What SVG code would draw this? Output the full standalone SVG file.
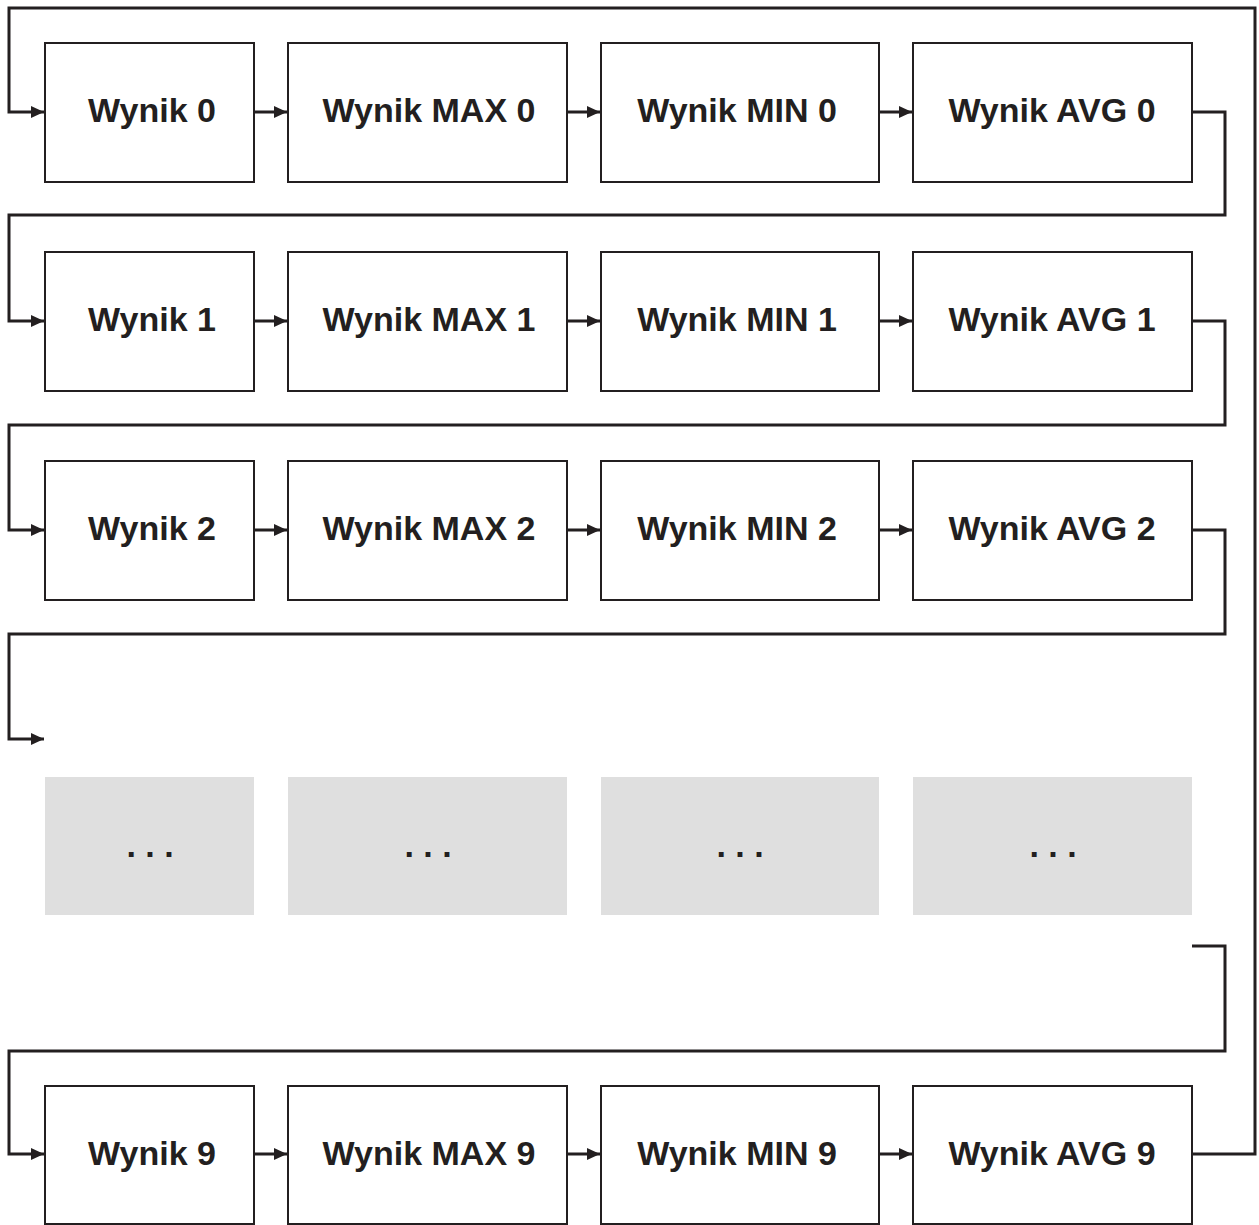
<svg xmlns="http://www.w3.org/2000/svg" width="1259" height="1225" viewBox="0 0 1259 1225">
<style>
.box{fill:#fff;stroke:#231f20;stroke-width:2}
.gbox{fill:#dfdfdf;stroke:none}
.t{font-family:"Liberation Sans",Arial,sans-serif;font-weight:bold;font-size:34px;fill:#231f20;text-anchor:middle}
.c{fill:none;stroke:#231f20;stroke-width:3}
</style>
<defs>
<marker id="ah" markerWidth="13" markerHeight="12" refX="13" refY="6" orient="auto" markerUnits="userSpaceOnUse" overflow="visible">
<path d="M0,0 L13,6 L0,12 Z" fill="#231f20"/>
</marker>
</defs>
<rect width="1259" height="1225" fill="#fff"/>
<g id="connectors">
<path class="c" d="M1192,1154 H1255 V8 H9 V112 H44" marker-end="url(#ah)"/>
<path class="c" d="M254,112 H287" marker-end="url(#ah)"/>
<path class="c" d="M567,112 H600" marker-end="url(#ah)"/>
<path class="c" d="M879,112 H912" marker-end="url(#ah)"/>
<path class="c" d="M1192,112 H1225 V215 H9 V321 H44" marker-end="url(#ah)"/>
<path class="c" d="M254,321 H287" marker-end="url(#ah)"/>
<path class="c" d="M567,321 H600" marker-end="url(#ah)"/>
<path class="c" d="M879,321 H912" marker-end="url(#ah)"/>
<path class="c" d="M1192,321 H1225 V425 H9 V530 H44" marker-end="url(#ah)"/>
<path class="c" d="M254,530 H287" marker-end="url(#ah)"/>
<path class="c" d="M567,530 H600" marker-end="url(#ah)"/>
<path class="c" d="M879,530 H912" marker-end="url(#ah)"/>
<path class="c" d="M1192,530 H1225 V634 H9 V739 H44" marker-end="url(#ah)"/>
<path class="c" d="M1192,946 H1225 V1051 H9 V1154 H44" marker-end="url(#ah)"/>
<path class="c" d="M254,1154 H287" marker-end="url(#ah)"/>
<path class="c" d="M567,1154 H600" marker-end="url(#ah)"/>
<path class="c" d="M879,1154 H912" marker-end="url(#ah)"/>
</g>
<g id="n0"><rect class="box" x="45" y="43" width="209" height="139"/><text class="t" x="152" y="122">Wynik 0</text></g>
<g id="nmax0"><rect class="box" x="288" y="43" width="279" height="139"/><text class="t" x="429" y="122">Wynik MAX 0</text></g>
<g id="nmin0"><rect class="box" x="601" y="43" width="278" height="139"/><text class="t" x="737" y="122">Wynik MIN 0</text></g>
<g id="navg0"><rect class="box" x="913" y="43" width="279" height="139"/><text class="t" x="1052" y="122">Wynik AVG 0</text></g>

<g id="n1"><rect class="box" x="45" y="252" width="209" height="139"/><text class="t" x="152" y="331">Wynik 1</text></g>
<g id="nmax1"><rect class="box" x="288" y="252" width="279" height="139"/><text class="t" x="429" y="331">Wynik MAX 1</text></g>
<g id="nmin1"><rect class="box" x="601" y="252" width="278" height="139"/><text class="t" x="737" y="331">Wynik MIN 1</text></g>
<g id="navg1"><rect class="box" x="913" y="252" width="279" height="139"/><text class="t" x="1052" y="331">Wynik AVG 1</text></g>

<g id="n2"><rect class="box" x="45" y="461" width="209" height="139"/><text class="t" x="152" y="540">Wynik 2</text></g>
<g id="nmax2"><rect class="box" x="288" y="461" width="279" height="139"/><text class="t" x="429" y="540">Wynik MAX 2</text></g>
<g id="nmin2"><rect class="box" x="601" y="461" width="278" height="139"/><text class="t" x="737" y="540">Wynik MIN 2</text></g>
<g id="navg2"><rect class="box" x="913" y="461" width="279" height="139"/><text class="t" x="1052" y="540">Wynik AVG 2</text></g>

<g id="d0"><rect class="gbox" x="45" y="777" width="209" height="138"/><text class="t" x="150" y="857">. . .</text></g>
<g id="d1"><rect class="gbox" x="288" y="777" width="279" height="138"/><text class="t" x="428" y="857">. . .</text></g>
<g id="d2"><rect class="gbox" x="601" y="777" width="278" height="138"/><text class="t" x="740" y="857">. . .</text></g>
<g id="d3"><rect class="gbox" x="913" y="777" width="279" height="138"/><text class="t" x="1053" y="857">. . .</text></g>

<g id="n9"><rect class="box" x="45" y="1086" width="209" height="138"/><text class="t" x="152" y="1165">Wynik 9</text></g>
<g id="nmax9"><rect class="box" x="288" y="1086" width="279" height="138"/><text class="t" x="429" y="1165">Wynik MAX 9</text></g>
<g id="nmin9"><rect class="box" x="601" y="1086" width="278" height="138"/><text class="t" x="737" y="1165">Wynik MIN 9</text></g>
<g id="navg9"><rect class="box" x="913" y="1086" width="279" height="138"/><text class="t" x="1052" y="1165">Wynik AVG 9</text></g>
</svg>
